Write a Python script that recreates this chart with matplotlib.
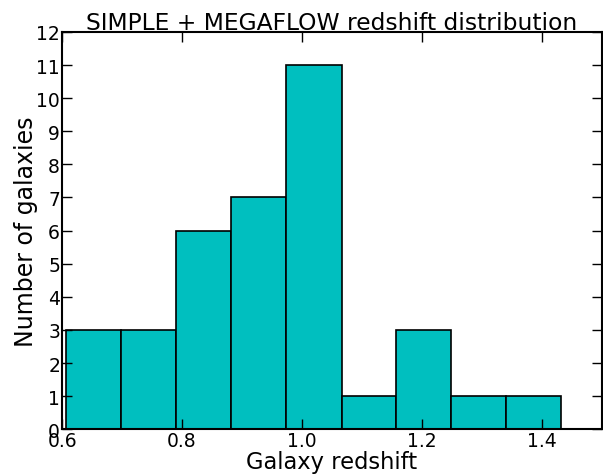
import numpy as np
import matplotlib
matplotlib.use('Agg')
import matplotlib.pyplot as plt

# Histogram of galaxy redshifts (bin edges and counts)
bin_edges = [0.607, 0.699, 0.790, 0.882, 0.973, 1.066, 1.157, 1.248, 1.341, 1.432]
counts = [3, 3, 6, 7, 11, 1, 3, 1, 1]
x_ticks = [0.6, 0.8, 1.0, 1.2, 1.4]
y_ticks = list(range(0, 13))

fig = plt.figure(figsize=(6.03, 4.77), dpi=100)
ax = fig.add_axes([0.103, 0.098, 0.895, 0.833])

widths = np.diff(bin_edges)
ax.bar(bin_edges[:-1], counts, width=widths, align='edge',
       color='c', edgecolor='black', linewidth=1.2)

ax.set_xlim(0.6, 1.5)
ax.set_ylim(0, 12)
ax.set_xticks(x_ticks)
ax.set_xticklabels([f'{t:.1f}' for t in x_ticks])
ax.set_yticks(y_ticks)

ax.tick_params(direction='in', top=True, right=True, length=7, width=1,
               labelsize=13.5, pad=1.5)
for s in ax.spines.values():
    s.set_linewidth(1.5)

ax.set_title('SIMPLE + MEGAFLOW redshift distribution', fontsize=16.8, pad=2)
ax.set_xlabel('Galaxy redshift', fontsize=16.3, labelpad=0)
ax.set_ylabel('Number of galaxies', fontsize=17, labelpad=-1)

fig.savefig('out.png', dpi=100, facecolor='white')
